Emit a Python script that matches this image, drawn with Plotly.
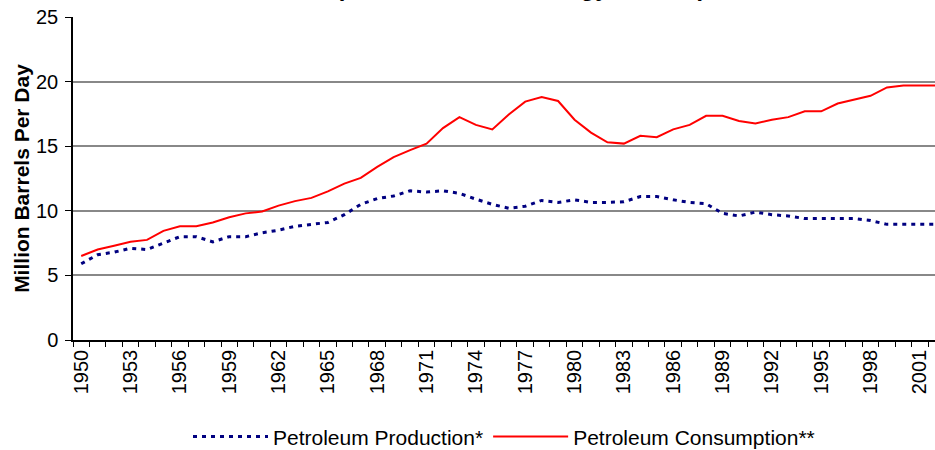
import plotly.graph_objects as go

years = list(range(1950, 2003))

production = [5.9, 6.6, 6.8, 7.1, 7.0, 7.5, 8.0, 8.0, 7.6, 8.0,
              8.0, 8.3, 8.5, 8.8, 8.95, 9.1, 9.7, 10.5, 10.95, 11.15,
              11.55, 11.45, 11.55, 11.35, 10.9, 10.5, 10.2, 10.35, 10.8, 10.65,
              10.85, 10.65, 10.65, 10.7, 11.1, 11.1, 10.85, 10.65, 10.55, 9.8,
              9.6, 9.9, 9.7, 9.6, 9.4, 9.4, 9.4, 9.4, 9.25, 8.95,
              8.95, 8.95, 8.95]

consumption = [6.5, 7.0, 7.3, 7.6, 7.75, 8.45, 8.8, 8.8, 9.1, 9.5,
               9.8, 9.95, 10.4, 10.75, 11.0, 11.5, 12.1, 12.55, 13.4, 14.15,
               14.7, 15.2, 16.4, 17.25, 16.65, 16.3, 17.45, 18.45, 18.8, 18.5,
               17.05, 16.05, 15.3, 15.2, 15.8, 15.7, 16.3, 16.65, 17.35, 17.35,
               16.95, 16.75, 17.05, 17.25, 17.7, 17.7, 18.3, 18.6, 18.9, 19.55,
               19.7, 19.7, 19.7]

label_years = list(range(1950, 2002, 3))
y_ticks = [0, 5, 10, 15, 20, 25]

FONT = "Liberation Sans, Arial, sans-serif"

fig = go.Figure()
fig.add_trace(go.Scatter(
    x=years, y=production, mode="lines", name="Petroleum Production*",
    line=dict(color="#000080", width=3, dash="4px,5px"),
))
fig.add_trace(go.Scatter(
    x=years, y=consumption, mode="lines", name="Petroleum Consumption**",
    line=dict(color="#FF0000", width=2),
))

fig.update_layout(
    width=935, height=450,
    margin=dict(l=73, r=0, t=17, b=110),
    paper_bgcolor="white", plot_bgcolor="white",
    font=dict(family=FONT, color="black", size=18),
    showlegend=True,
    legend=dict(orientation="h", x=0.5, xanchor="center",
                yref="container", y=0.029, yanchor="middle",
                font=dict(size=21, family=FONT), itemwidth=75, tracegroupgap=0),
    annotations=[dict(
        text="(Source: Annual Energy Review)", xref="paper", yref="paper",
        x=0.52, y=1.0, yshift=14, xanchor="center", yanchor="bottom",
        showarrow=False, font=dict(size=24, family=FONT, weight="bold"),
    )],
)

fig.update_xaxes(
    range=[1949.5, 2001.92], automargin=False,
    tickmode="array", tickvals=label_years, ticktext=[str(v) for v in label_years],
    tickangle=-90, ticks="", showgrid=False, zeroline=False,
    showline=True, linecolor="black", linewidth=1.5,
    tickfont=dict(size=20),
    minor=dict(tick0=1949.5, dtick=1, ticks="outside", ticklen=5, tickcolor="black",
               tickwidth=1, showgrid=False),
)
fig.update_yaxes(
    range=[0, 25], tickmode="array", tickvals=y_ticks, automargin=False,
    ticks="outside", ticklen=6, tickcolor="black", tickwidth=1,
    showline=True, linecolor="black", linewidth=1.5,
    showgrid=True, gridcolor="#888888", gridwidth=1.5, zeroline=False,
    tickfont=dict(size=20), ticklabelstandoff=3,
    title=dict(text="Million Barrels Per Day", font=dict(size=21, weight="bold"), standoff=1),
)

fig.write_html("out.html", config={"displayModeBar": False},
               post_script="document.body.style.margin='0';")
